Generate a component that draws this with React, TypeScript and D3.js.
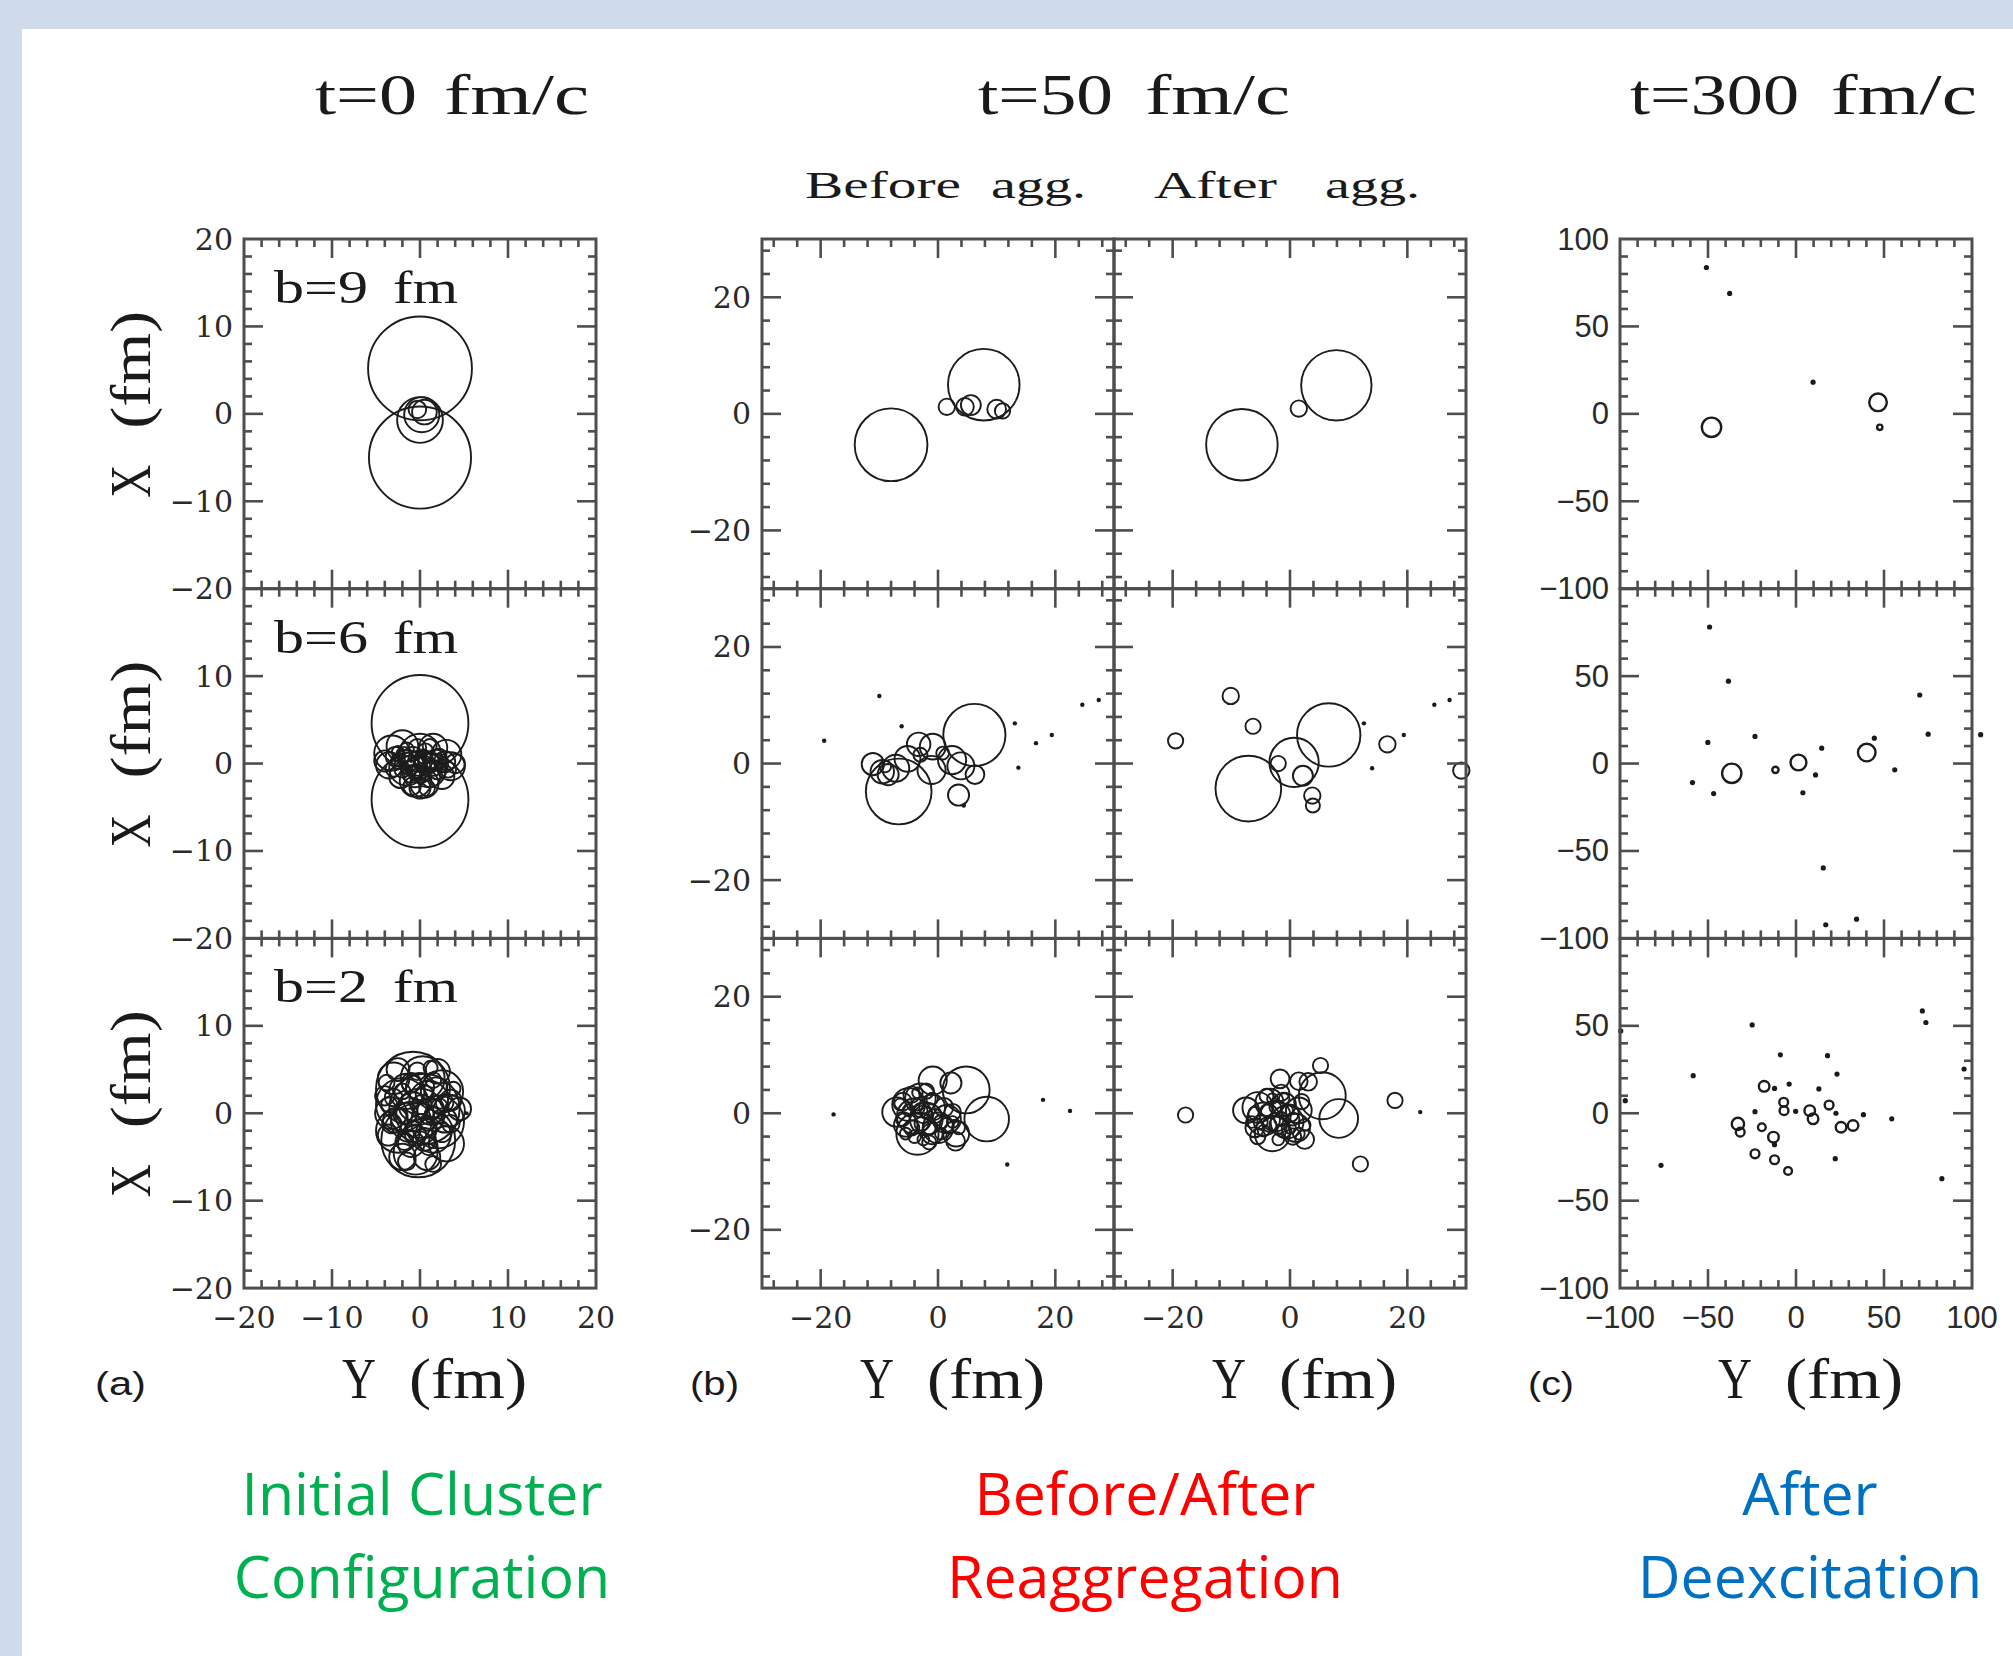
import React from "react";
import * as d3 from "d3";

// [Y, X, radius] in fm; radius 0 = point-like fragment
type Blob = [number, number, number];

const timeTitles = ["t=0", "t=50", "t=300"];
const timeUnit = "fm/c";
const aggWords = [["Before", "agg."], ["After", "agg."]];
const impactParams = ["b=9", "b=6", "b=2"];
const panelTags = ["(a)", "(b)", "(c)"];
const captionLines = [
  ["Initial Cluster", "Configuration"],
  ["Before/After", "Reaggregation"],
  ["After", "Deexcitation"],
];
const captionColors = ["#00b050", "#ff0000", "#0070c0"];

const labelsA = [20, 10, 0, -10, -20];
const labelsB = [20, 0, -20];
const labelsC = [100, 50, 0, -50, -100];

// (a) t = 0 fm/c
const initB9: Blob[] = [
  [0, 5.2, 5.9], [0, -5.0, 5.8], [0, -0.7, 2.6], [0.2, -0.1, 2.0], [0.5, 0.2, 1.4], [-0.3, 0.5, 1.0],
];
const initB6: Blob[] = [
  [0, 4.6, 5.5], [0, -4.1, 5.5],
  [-3.2, 1.2, 2.0], [-2.0, 2.0, 1.8], [0, 1.0, 2.4], [1.5, 1.8, 1.6], [3.0, 1.0, 1.7], [3.5, -0.3, 1.6],
  [-3.5, -0.2, 1.5], [-1.5, -0.5, 2.0], [1.0, -0.8, 1.9], [2.5, -1.5, 1.4], [-0.5, -2.0, 1.8],
  [0.5, -2.3, 1.6], [-2.2, -1.5, 1.3], [1.8, 0.4, 1.2], [-0.8, 0.6, 1.3], [0.3, 0.0, 1.0],
  [-1.0, -1.2, 1.0], [1.2, -1.6, 1.1], [-2.8, 0.8, 1.1], [2.8, 0.2, 1.2], [0, -2.8, 1.2],
  [-0.3, 1.8, 1.0], [0.6, 1.4, 0.9], [-4.0, 0.3, 1.2], [4.0, 0.0, 1.1],
  [-2.5, 0.2, 0.8], [-1.8, 1.0, 0.9], [-1.2, -0.2, 1.1], [-0.4, -0.9, 0.8], [0.4, 0.8, 0.8],
  [1.0, 0.1, 1.2], [1.6, -0.5, 0.9], [2.2, 0.9, 0.8], [2.0, -0.8, 1.0], [-2.0, -0.7, 0.9],
  [-0.6, -1.5, 1.2], [0.2, -1.4, 0.8], [0.8, -2.8, 0.9], [-0.9, -2.6, 1.0], [-1.5, 1.6, 0.8],
  [1.1, 2.0, 0.8], [-3.0, -0.6, 0.9], [3.2, -0.7, 0.9], [0, 0.5, 0.7], [-0.2, -0.5, 1.4],
  [0.6, -0.3, 0.6], [-1.0, 0.3, 0.6], [2.5, -0.2, 0.7], [-2.5, 1.3, 0.7],
];
const initB2: Blob[] = [
  [-0.8, 2.8, 4.2], [-0.2, -3.1, 4.2], [0.5, 0.5, 4.0], [-2.0, 1.0, 3.0], [2.0, -1.0, 3.0],
  [-2.5, -2.0, 2.5], [2.5, 2.5, 2.4], [0.3, 4.0, 2.5], [-0.5, -4.5, 2.5], [3.0, -3.5, 2.0],
  [-3.0, 4.0, 1.8], [1.0, 1.5, 2.2], [-1.0, -1.0, 2.3], [0, 0, 2.8], [-3.3, 0, 1.8], [3.3, 0.3, 1.8],
  [1.5, -2.5, 2.0], [-1.5, 2.5, 2.0], [0.8, -5.0, 1.5], [-2.0, -5.0, 1.5], [2.0, 4.8, 1.4],
  [-2.5, 5.0, 1.3], [4.5, 0.5, 1.3], [-4.0, 2.0, 1.1], [1.2, 0.2, 1.5], [-0.8, 0.8, 1.6],
  [0.2, -1.8, 1.7], [2.8, -0.8, 1.4], [-2.8, -0.8, 1.4], [0, 3.0, 1.6], [1.8, 2.8, 1.3],
  [-1.0, -3.5, 1.5], [3.5, 1.5, 1.2], [-3.6, -2.5, 1.2], [0.5, -3.0, 1.3], [5.3, 0, 0.5],
  [-3.0, 1.8, 1.0], [-2.0, 2.5, 0.9], [-1.0, 3.5, 1.1], [0.5, 2.2, 1.0], [1.5, 3.8, 0.9],
  [2.8, 1.2, 1.0], [3.5, -1.2, 1.0], [2.5, -2.2, 1.1], [1.0, -3.8, 1.0], [-0.5, -2.5, 1.2],
  [-1.8, -3.2, 1.0], [-3.2, -1.2, 1.1], [-3.5, 1.0, 0.9], [-1.5, 0.0, 1.2], [0.2, 1.0, 1.1],
  [1.5, -0.2, 1.0], [-0.8, -1.8, 0.9], [0.8, -1.2, 0.8], [2.2, 0.8, 0.9], [-2.2, -0.3, 0.8],
  [-0.3, 4.8, 1.0], [1.2, 5.2, 0.8], [-1.5, -5.5, 1.0], [1.5, -5.8, 0.9], [3.8, 2.8, 0.8],
  [-3.8, 3.5, 0.9],
];

// (b) t = 50 fm/c, before / after aggregation
const beforeB9: Blob[] = [
  [-8.0, -5.3, 6.2], [7.8, 5.0, 6.1], [1.5, 1.2, 1.4], [4.6, 1.2, 1.5], [5.6, 1.5, 1.7], [10.0, 0.8, 1.6], [11.0, 0.5, 1.3],
];
const afterB9: Blob[] = [[-8.2, -5.3, 6.1], [7.9, 4.9, 6.0], [1.5, 0.9, 1.4]];
const beforeB6: Blob[] = [
  [-6.7, -4.8, 5.6], [6.2, 4.9, 5.3],
  [-11.1, -0.1, 1.9], [-9.5, -1.4, 2.0], [-8.5, -1.9, 1.8], [-5.2, 0.8, 2.2], [-3.3, 3.3, 2.0],
  [-0.9, 2.9, 2.2], [-1.1, -1.1, 2.4], [2.4, 0.6, 2.4], [3.9, -0.4, 2.3], [6.3, -1.9, 1.6],
  [3.5, -5.4, 1.8], [-7.2, -0.8, 2.3], [-3.0, 1.5, 1.2], [0.8, 1.8, 1.1], [-9.0, -0.5, 1.0],
  [-10.0, 11.6, 0], [-6.2, 6.4, 0], [-19.4, 3.9, 0], [13.1, 6.9, 0], [16.7, 3.5, 0], [19.4, 4.9, 0],
  [13.7, -0.7, 0], [24.6, 10.1, 0], [27.4, 10.9, 0], [4.4, -7.2, 0],
];
const afterB6: Blob[] = [
  [-7.1, -4.3, 5.6], [6.6, 4.9, 5.4], [0.7, 0.2, 4.2],
  [-2.0, 0.0, 1.3], [2.2, -2.1, 1.7], [3.8, -5.5, 1.4], [3.9, -7.2, 1.2],
  [-10.1, 11.6, 1.4], [-6.3, 6.4, 1.3], [-19.5, 3.9, 1.3], [16.6, 3.3, 1.4], [29.2, -1.2, 1.4],
  [12.6, 6.9, 0], [19.4, 4.9, 0], [14.0, -0.8, 0], [24.6, 10.1, 0], [27.2, 10.9, 0],
];
const beforeB2: Blob[] = [
  [-7.0, 0.2, 2.5], [-5.0, 1.5, 2.8], [-3.0, 2.5, 2.6], [-4.0, -0.5, 3.0], [-2.0, -1.0, 2.8],
  [-3.5, -3.5, 3.6], [0, -2.5, 2.6], [1.5, -1.0, 2.4], [-1.0, 1.0, 2.2], [-0.9, 5.6, 2.4],
  [2.2, 5.2, 1.8], [4.8, 4.0, 4.0], [8.3, -1.0, 3.8], [3.1, -3.5, 2.2], [3.0, -4.8, 1.6],
  [-5.5, -2.0, 2.0], [-2.5, -0.2, 1.5], [-1.0, -3.5, 1.8], [1.0, 1.0, 1.6], [-6.0, 2.0, 1.5],
  [-4.5, 3.2, 1.4], [-2.0, 3.8, 1.3], [0.5, -1.5, 1.2], [-3.0, 0.5, 1.2], [2.5, 0.2, 1.4],
  [-1.5, -5.0, 1.2],
  [-6, -1, 1.2], [-5, 0.5, 1.0], [-4.5, -2.5, 1.3], [-3.5, 1.5, 1.0], [-2.8, -1.8, 1.2],
  [-2, 0, 1.0], [-1.5, -2.5, 1.1], [-0.5, -0.5, 1.2], [0.5, -3.5, 1.0], [1.5, -2.0, 1.2],
  [2.5, -1.5, 1.0], [-4, -4, 1.1], [-2.5, -4.5, 1.0], [-6.5, 1.5, 1.0], [-1.0, 2.5, 1.0],
  [-5.5, -3.5, 1.0], [3.5, -2.5, 1.1], [-3.5, 3.5, 0.9],
  [-17.8, -0.2, 0], [11.8, -8.8, 0], [17.9, 2.3, 0], [22.5, 0.4, 0],
];
const afterB2: Blob[] = [
  [-7.5, 0.5, 2.2], [-5.5, 1.0, 2.6], [-3.5, 1.8, 2.4], [-4.5, -1.0, 2.8], [-2.5, -0.5, 2.6],
  [-0.5, -1.5, 2.8], [-3.0, -3.5, 3.0], [1.0, -2.5, 2.4], [1.5, 0.5, 2.2], [-1.0, 1.5, 2.0],
  [-1.7, 5.9, 1.6], [1.5, 5.5, 1.5], [3.1, 5.4, 1.5], [5.2, 8.2, 1.3], [5.5, 3.0, 4.0],
  [8.3, -0.9, 3.3], [2.5, -4.5, 1.6], [-6.0, -2.5, 1.6], [-5.5, -4.0, 1.3], [0.5, -4.0, 1.4],
  [-1.5, 3.5, 1.4], [-4.0, 3.0, 1.2], [2.0, 2.0, 1.3], [0, 0, 1.5], [-2.0, -2.0, 1.5],
  [-6, 0, 1.1], [-5, -1.5, 1.2], [-4, 0.5, 1.0], [-3.5, -2.0, 1.2], [-2.5, 1.0, 1.0],
  [-1.5, -1.0, 1.2], [-0.5, 0.5, 1.0], [0.5, -1.0, 1.1], [1.5, -3.5, 1.0], [-1.0, -3.0, 1.2],
  [-4.5, -3.0, 1.0], [2.5, -2.0, 1.0], [-2.0, -4.5, 1.0], [-3.0, 2.5, 0.9], [-6.5, -1.5, 1.0],
  [0, -2.5, 1.0], [-1, 2.5, 0.9],
  [-17.8, -0.3, 1.3], [17.9, 2.2, 1.3], [12.0, -8.7, 1.3], [22.2, 0.2, 0],
];

// (c) t = 300 fm/c, after deexcitation
const deexB9: Blob[] = [
  [-50.9, 83.7, 0], [-37.7, 68.9, 0], [9.7, 18.1, 0], [-48, -7.7, 5.5], [46.6, 6.6, 5], [47.6, -7.7, 1.5],
];
const deexB6: Blob[] = [
  [-49.1, 78.1, 0], [-38.4, 47.1, 0], [-50.1, 12.1, 0], [-23.3, 15.5, 0], [14.6, 8.8, 0], [44.5, 14.5, 0],
  [70.3, 39.2, 0], [75.1, 16.8, 0], [104.9, 16.5, 0], [-36.5, -5.6, 5.5], [-11.7, -3.6, 1.8],
  [1.4, 0.6, 4.5], [40.2, 6.3, 5], [11.1, -6.5, 0], [3.9, -16.7, 0], [-58.8, -10.9, 0],
  [-46.8, -17.2, 0], [56.1, -3.6, 0], [15.5, -59.7, 0], [34.4, -89, 0], [16.9, -92.2, 0],
];
const deexB2: Blob[] = [
  [71.8, 58.5, 0], [73.8, 51.9, 0], [-99.6, 47.1, 0], [-24.9, 50.5, 0], [-8.9, 33.4, 0], [17.9, 32.9, 0],
  [23.3, 22.4, 0], [95.5, 25.3, 0], [-58.4, 21.5, 0], [-97, 7.2, 0], [-18.1, 15.4, 3], [-12.2, 14.2, 0],
  [-3.9, 16.7, 0], [13, 13.9, 0], [-7, 6.3, 2.5], [-6.8, 1.5, 2.5], [-0.2, 1.1, 0], [7.8, 1.5, 3],
  [9.7, -3.2, 3], [18.8, 4.7, 2.5], [22.7, 0, 0], [25.6, -8, 3], [32.4, -7, 3], [38.3, -0.8, 0],
  [-23.3, 0.9, 0], [-33, -6.1, 3.5], [-31.7, -10.8, 2.5], [-19.4, -8, 2.2], [-12.8, -13.7, 3],
  [-12.2, -18, 0], [-23.3, -23.2, 2.5], [-12.2, -26.6, 2.5], [-4.5, -33, 2.2], [22.3, -26, 0],
  [54.4, -3.2, 0], [-76.7, -29.8, 0], [82.9, -37.4, 0],
];

// layout
const TOP = 239;
const ROW_H = 349.7;
const SIDE = 352;
const FRAME = "#4e4e4e";
const TICK_MAJOR = 19;
const TICK_MINOR = 8;
const X_LABEL_BASE = 1328;

type FrameProps = {
  left: number;
  row: number;
  lim: number;
  major: number;
  minor: number;
  blobs: Blob[];
  yLabels: number[] | null;
  xLabels: number[] | null;
  labelFont: string;
  dotR: number;
  lineW: number;
};

const fmt = (v: number) => (v < 0 ? "\u2212" + Math.abs(v) : String(v));

function Frame({ left, row, lim, major, minor, blobs, yLabels, xLabels, labelFont, dotR, lineW }: FrameProps) {
  const top = TOP + row * ROW_H;
  const x = d3.scaleLinear().domain([-lim, lim]).range([left, left + SIDE]);
  const y = d3.scaleLinear().domain([-lim, lim]).range([top + ROW_H, top]);
  const ticks = d3
    .range(Math.floor(-lim / minor) + 1, Math.ceil(lim / minor))
    .map((i) => i * minor);
  const len = (v: number) => (v % major === 0 ? TICK_MAJOR : TICK_MINOR);
  const rpx = (r: number) => x(r) - x(0);
  const fs = labelFont.includes("Sans") ? 31 : 30;

  return (
    <g>
      {blobs.map((b, i) =>
        b[2] <= 0.6 ? (
          <circle key={i} cx={x(b[0])} cy={y(b[1])} r={dotR} fill="#1a1a1a" />
        ) : (
          <circle key={i} cx={x(b[0])} cy={y(b[1])} r={rpx(b[2])} fill="none" stroke="#1c1c1c" strokeWidth={lineW} />
        )
      )}
      <rect x={x(-lim)} y={y(lim)} width={SIDE} height={ROW_H} fill="none" stroke={FRAME} strokeWidth={3} />
      {ticks.map((v) => (
        <g key={v} stroke={FRAME} strokeWidth={2.6}>
          <line x1={x(v)} x2={x(v)} y1={y(-lim)} y2={y(-lim) - len(v)} />
          <line x1={x(v)} x2={x(v)} y1={y(lim)} y2={y(lim) + len(v)} />
          <line x1={x(-lim)} x2={x(-lim) + len(v)} y1={y(v)} y2={y(v)} />
          <line x1={x(lim)} x2={x(lim) - len(v)} y1={y(v)} y2={y(v)} />
        </g>
      ))}
      {yLabels &&
        yLabels
          .filter((v) => row === 0 || v !== lim)
          .map((v) => (
            <text key={"y" + v} x={left - 11} y={y(v)} textAnchor="end" dominantBaseline="central"
              fontFamily={labelFont} fontSize={fs} fill="#2a2a2a">
              {fmt(v)}
            </text>
          ))}
      {xLabels &&
        xLabels.map((v) => (
          <text key={"x" + v} x={x(v)} y={X_LABEL_BASE} textAnchor="middle"
            fontFamily={labelFont} fontSize={fs} fill="#2a2a2a">
            {fmt(v)}
          </text>
        ))}
    </g>
  );
}

// a word stretched to the span it takes in the figure
function W({ x0, x1, y, size, children, font = "'Liberation Serif', serif" }: any) {
  return (
    <text x={x0} y={y} textLength={x1 - x0} lengthAdjust="spacingAndGlyphs" fontFamily={font} fontSize={size} fill="#1a1a1a">
      {children}
    </text>
  );
}

export default function App() {
  const serifLabels = "'DejaVu Serif', serif";
  const sansLabels = "'Liberation Sans', sans-serif";
  const initRows = [initB9, initB6, initB2];
  const beforeRows = [beforeB9, beforeB6, beforeB2];
  const afterRows = [afterB9, afterB6, afterB2];
  const deexRows = [deexB9, deexB6, deexB2];
  const A_LEFT = 244, B_LEFT = 762, C_LEFT = 1620;

  const titleSpans = [
    [[315, 417], [444, 589]],
    [[978, 1113], [1145, 1290]],
    [[1630, 1799], [1831, 1977]],
  ];
  const aggSpans = [
    [[805, 961], [991, 1086]],
    [[1154, 1277], [1325, 1420]],
  ];
  const yAxisCenters = [A_LEFT + SIDE / 2, B_LEFT + SIDE / 2, B_LEFT + SIDE * 1.5, C_LEFT + SIDE / 2];
  const tagPos = [[95, 146], [690, 739], [1528, 1574]];
  const captionX = [422, 1145, 1810];

  return (
    <svg width={2013} height={1656} style={{ position: "absolute", left: 0, top: 0 }}>
      <rect width={2013} height={1656} fill="#cfdbea" />
      <rect x={22} y={29} width={1991} height={1627} fill="#ffffff" />

      {timeTitles.map((t, i) => (
        <g key={t}>
          <W x0={titleSpans[i][0][0]} x1={titleSpans[i][0][1]} y={114} size={56}>{t}</W>
          <W x0={titleSpans[i][1][0]} x1={titleSpans[i][1][1]} y={114} size={56}>{timeUnit}</W>
        </g>
      ))}
      {aggWords.map((words, i) =>
        words.map((w, j) => (
          <W key={i + w} x0={aggSpans[i][j][0]} x1={aggSpans[i][j][1]} y={198} size={37}>{w}</W>
        ))
      )}

      {[0, 1, 2].map((row) => (
        <g key={row}>
          <Frame left={A_LEFT} row={row} lim={20} major={10} minor={2} blobs={initRows[row]}
            yLabels={labelsA} xLabels={row === 2 ? labelsA : null} labelFont={serifLabels} dotR={2} lineW={1.9} />
          <Frame left={B_LEFT} row={row} lim={30} major={20} minor={4} blobs={beforeRows[row]}
            yLabels={labelsB} xLabels={row === 2 ? labelsB : null} labelFont={serifLabels} dotR={2.2} lineW={1.9} />
          <Frame left={B_LEFT + SIDE} row={row} lim={30} major={20} minor={4} blobs={afterRows[row]}
            yLabels={null} xLabels={row === 2 ? labelsB : null} labelFont={serifLabels} dotR={2.2} lineW={1.9} />
          <Frame left={C_LEFT} row={row} lim={100} major={50} minor={10} blobs={deexRows[row]}
            yLabels={labelsC} xLabels={row === 2 ? labelsC : null} labelFont={sansLabels} dotR={2.6} lineW={2.4} />

          <W x0={274} x1={368} y={303 + row * ROW_H} size={47}>{impactParams[row]}</W>
          <W x0={393} x1={458} y={303 + row * ROW_H} size={47}>fm</W>

          <g transform={`translate(150, ${TOP + ROW_H * (row + 0.5)}) rotate(-90)`}>
            <W x0={-84} x1={-51} y={0} size={57}>X</W>
            <W x0={-15} x1={103} y={0} size={57}>(fm)</W>
          </g>
        </g>
      ))}

      {yAxisCenters.map((c, i) => (
        <g key={i}>
          <W x0={c - 78} x1={c - 44} y={1398} size={57}>Y</W>
          <W x0={c - 11} x1={c + 107} y={1398} size={57}>(fm)</W>
        </g>
      ))}

      {panelTags.map((t, i) => (
        <W key={t} x0={tagPos[i][0]} x1={tagPos[i][1]} y={1395} size={34} font="'Liberation Sans', sans-serif">{t}</W>
      ))}

      {captionLines.map((lines, i) =>
        lines.map((line, j) => (
          <text key={line} x={captionX[i]} y={1515 + j * 83} textAnchor="middle"
            fontFamily="'Open Sans', sans-serif" fontSize={59} fill={captionColors[i]}>
            {line}
          </text>
        ))
      )}
    </svg>
  );
}
